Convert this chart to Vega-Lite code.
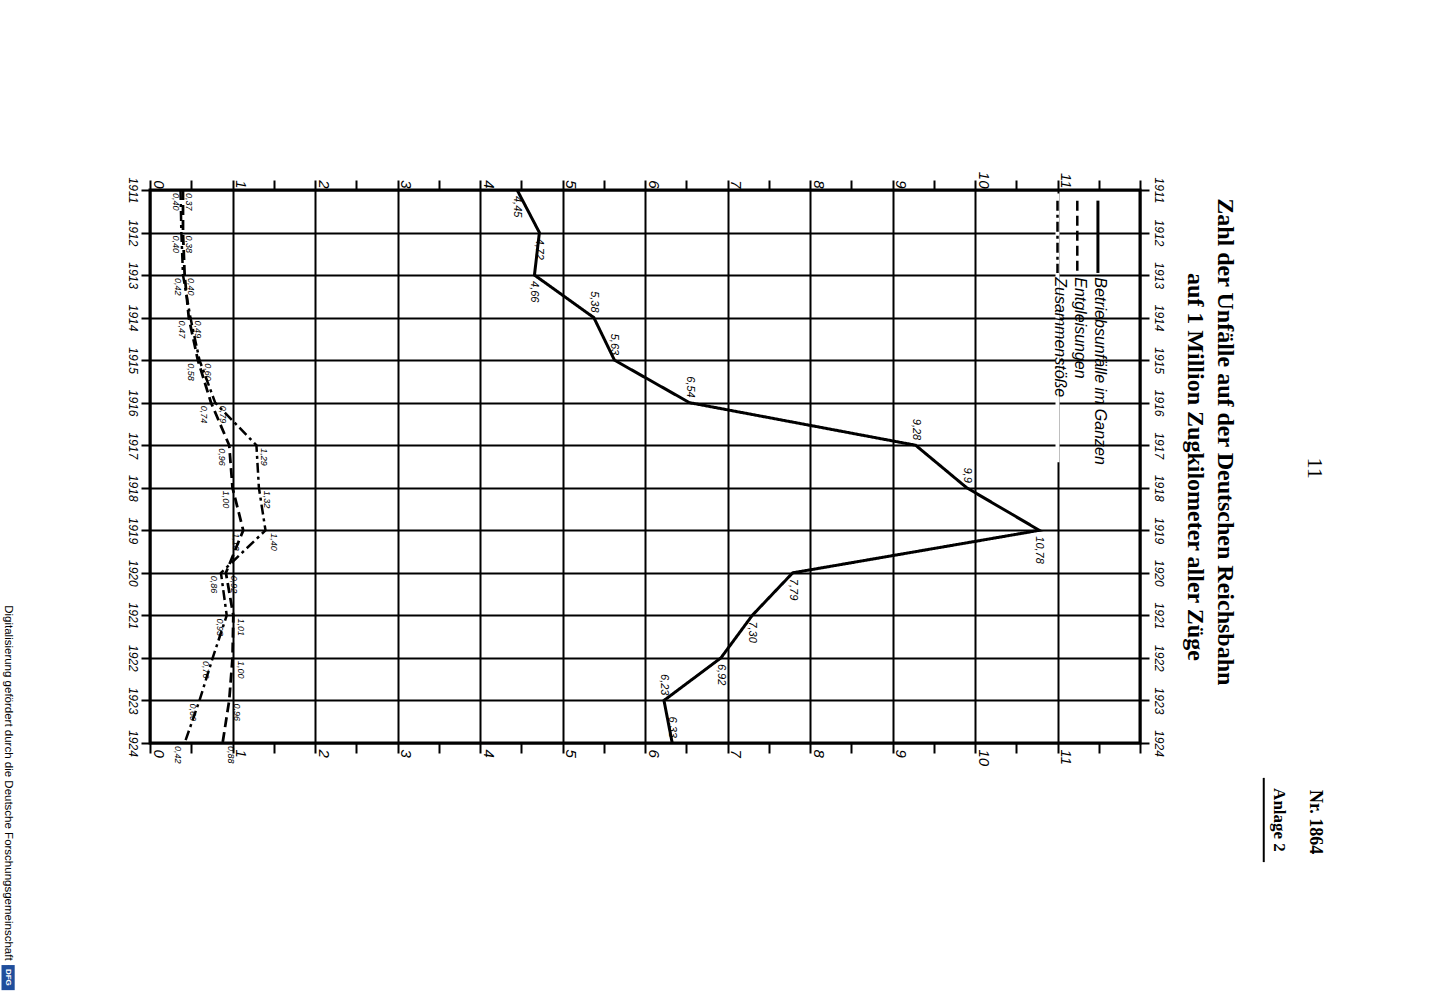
{
  "$schema": "https://vega.github.io/schema/vega-lite/v6.json",
  "width": 990,
  "height": 553,
  "autosize": {"type": "none"},
  "padding": {"left": 150, "top": 190, "right": 294, "bottom": 257},
  "background": "white",
  "config": {
    "view": {"stroke": "black", "strokeWidth": 3},
    "font": "Liberation Sans"
  },
  "data": {"values": [{}]},
  "datasets": {
    "unfaelle": [
      {"year": 1911, "series": "Betriebsunfälle im Ganzen", "value": 4.45, "label": "4,45"},
      {"year": 1912, "series": "Betriebsunfälle im Ganzen", "value": 4.72, "label": "4,72"},
      {"year": 1913, "series": "Betriebsunfälle im Ganzen", "value": 4.66, "label": "4,66"},
      {"year": 1914, "series": "Betriebsunfälle im Ganzen", "value": 5.38, "label": "5,38"},
      {"year": 1915, "series": "Betriebsunfälle im Ganzen", "value": 5.63, "label": "5,63"},
      {"year": 1916, "series": "Betriebsunfälle im Ganzen", "value": 6.54, "label": "6,54"},
      {"year": 1917, "series": "Betriebsunfälle im Ganzen", "value": 9.28, "label": "9,28"},
      {"year": 1918, "series": "Betriebsunfälle im Ganzen", "value": 9.9, "label": "9,9"},
      {"year": 1919, "series": "Betriebsunfälle im Ganzen", "value": 10.78, "label": "10,78"},
      {"year": 1920, "series": "Betriebsunfälle im Ganzen", "value": 7.79, "label": "7,79"},
      {"year": 1921, "series": "Betriebsunfälle im Ganzen", "value": 7.3, "label": "7,30"},
      {"year": 1922, "series": "Betriebsunfälle im Ganzen", "value": 6.92, "label": "6,92"},
      {"year": 1923, "series": "Betriebsunfälle im Ganzen", "value": 6.23, "label": "6,23"},
      {"year": 1924, "series": "Betriebsunfälle im Ganzen", "value": 6.33, "label": "6,33"},
      {"year": 1911, "series": "Entgleisungen", "value": 0.4, "label": "0,40"},
      {"year": 1912, "series": "Entgleisungen", "value": 0.4, "label": "0,40"},
      {"year": 1913, "series": "Entgleisungen", "value": 0.42, "label": "0,42"},
      {"year": 1914, "series": "Entgleisungen", "value": 0.47, "label": "0,47"},
      {"year": 1915, "series": "Entgleisungen", "value": 0.58, "label": "0,58"},
      {"year": 1916, "series": "Entgleisungen", "value": 0.74, "label": "0,74"},
      {"year": 1917, "series": "Entgleisungen", "value": 0.96, "label": "0,96"},
      {"year": 1918, "series": "Entgleisungen", "value": 1.0, "label": "1,00"},
      {"year": 1919, "series": "Entgleisungen", "value": 1.13, "label": "1,13"},
      {"year": 1920, "series": "Entgleisungen", "value": 0.92, "label": "0,92"},
      {"year": 1921, "series": "Entgleisungen", "value": 1.01, "label": "1,01"},
      {"year": 1922, "series": "Entgleisungen", "value": 1.0, "label": "1,00"},
      {"year": 1923, "series": "Entgleisungen", "value": 0.96, "label": "0,96"},
      {"year": 1924, "series": "Entgleisungen", "value": 0.88, "label": "0,88"},
      {"year": 1911, "series": "Zusammenstöße", "value": 0.37, "label": "0,37"},
      {"year": 1912, "series": "Zusammenstöße", "value": 0.38, "label": "0,38"},
      {"year": 1913, "series": "Zusammenstöße", "value": 0.4, "label": "0,40"},
      {"year": 1914, "series": "Zusammenstöße", "value": 0.49, "label": "0,49"},
      {"year": 1915, "series": "Zusammenstöße", "value": 0.6, "label": "0,60"},
      {"year": 1916, "series": "Zusammenstöße", "value": 0.79, "label": "0,79"},
      {"year": 1917, "series": "Zusammenstöße", "value": 1.29, "label": "1,29"},
      {"year": 1918, "series": "Zusammenstöße", "value": 1.32, "label": "1,32"},
      {"year": 1919, "series": "Zusammenstöße", "value": 1.4, "label": "1,40"},
      {"year": 1920, "series": "Zusammenstöße", "value": 0.86, "label": "0,86"},
      {"year": 1921, "series": "Zusammenstöße", "value": 0.93, "label": "0,93"},
      {"year": 1922, "series": "Zusammenstöße", "value": 0.76, "label": "0,76"},
      {"year": 1923, "series": "Zusammenstöße", "value": 0.6, "label": "0,60"},
      {"year": 1924, "series": "Zusammenstöße", "value": 0.42, "label": "0,42"}
    ]
  },
  "layer": [
    {
      "data": {"name": "unfaelle"},
      "mark": {"type": "line", "color": "black"},
      "encoding": {
        "x": {
          "field": "value", "type": "quantitative",
          "scale": {"domain": [0, 12], "nice": false, "zero": true},
          "axis": {
            "orient": "bottom",
            "values": [0, 0.5, 1, 1.5, 2, 2.5, 3, 3.5, 4, 4.5, 5, 5.5, 6, 6.5, 7, 7.5, 8, 8.5, 9, 9.5, 10, 10.5, 11, 11.5, 12],
            "labelExpr": "(datum.value % 1 === 0 && datum.value < 12) ? ('' + datum.value) : ''",
            "grid": true, "gridColor": "black", "gridWidth": 2,
            "gridOpacity": {"condition": {"test": "datum.value % 1 === 0", "value": 1}, "value": 0},
            "tickSize": 10, "tickWidth": 2, "tickColor": "black",
            "domain": false,
            "labelAngle": 90, "labelAlign": "left", "labelBaseline": "bottom", "labelPadding": -4,
            "labelFont": "Liberation Sans", "labelFontStyle": "italic", "labelFontSize": 15, "labelColor": "black",
            "labelFlush": false, "labelOverlap": false,
            "title": null
          }
        },
        "y": {
          "field": "year", "type": "quantitative",
          "scale": {"domain": [1911, 1924], "reverse": true, "nice": false, "zero": false},
          "axis": {
            "orient": "left",
            "values": [1911, 1912, 1913, 1914, 1915, 1916, 1917, 1918, 1919, 1920, 1921, 1922, 1923, 1924],
            "format": "d",
            "grid": true, "gridColor": "black", "gridWidth": 2,
            "tickSize": 9, "tickWidth": 2, "tickColor": "black",
            "domain": false,
            "labelAngle": 90, "labelAlign": "center", "labelBaseline": "top", "labelPadding": 4,
            "labelFont": "Liberation Sans", "labelFontStyle": "italic", "labelFontSize": 12, "labelColor": "black",
            "labelFlush": false, "labelOverlap": false,
            "title": null
          }
        },
        "order": {"field": "year", "type": "quantitative"},
        "strokeDash": {
          "field": "series", "type": "nominal",
          "scale": {"domain": ["Betriebsunfälle im Ganzen", "Entgleisungen", "Zusammenstöße"], "range": [[1, 0], [10, 5], [10, 4, 3, 4]]},
          "legend": null
        },
        "strokeWidth": {
          "field": "series", "type": "nominal",
          "scale": {"domain": ["Betriebsunfälle im Ganzen", "Entgleisungen", "Zusammenstöße"], "range": [3, 2.5, 2.5]},
          "legend": null
        }
      }
    },
    {
      "data": {"name": "unfaelle"},
      "mark": {"type": "point", "opacity": 0},
      "encoding": {
        "x": {
          "field": "value", "type": "quantitative",
          "axis": {
            "orient": "top",
            "values": [0, 0.5, 1, 1.5, 2, 2.5, 3, 3.5, 4, 4.5, 5, 5.5, 6, 6.5, 7, 7.5, 8, 8.5, 9, 9.5, 10, 10.5, 11, 11.5, 12],
            "labelExpr": "(datum.value % 1 === 0 && datum.value < 12) ? ('' + datum.value) : ''",
            "grid": false,
            "tickSize": 10, "tickWidth": 2, "tickColor": "black",
            "domain": false,
            "labelAngle": 90, "labelAlign": "right", "labelBaseline": "bottom", "labelPadding": -8,
            "labelFont": "Liberation Sans", "labelFontStyle": "italic", "labelFontSize": 15, "labelColor": "black",
            "labelFlush": false, "labelOverlap": false,
            "title": null
          }
        },
        "y": {
          "field": "year", "type": "quantitative",
          "axis": {
            "orient": "right",
            "values": [1911, 1912, 1913, 1914, 1915, 1916, 1917, 1918, 1919, 1920, 1921, 1922, 1923, 1924],
            "format": "d",
            "grid": false,
            "tickSize": 9, "tickWidth": 2, "tickColor": "black",
            "domain": false,
            "labelAngle": 90, "labelAlign": "center", "labelBaseline": "bottom", "labelPadding": 2,
            "labelFont": "Liberation Sans", "labelFontStyle": "italic", "labelFontSize": 12, "labelColor": "black",
            "labelFlush": false, "labelOverlap": false,
            "title": null
          }
        }
      }
    },
    {
      "mark": {"type": "rule", "color": "white", "strokeWidth": 4},
      "encoding": {
        "x": {"datum": 11, "type": "quantitative", "axis": null},
        "y": {"datum": 1911.08, "type": "quantitative", "axis": null},
        "y2": {"datum": 1917.4}
      }
    },
    {
      "mark": {"type": "rule", "color": "black", "strokeWidth": 3},
      "encoding": {
        "x": {"datum": 11.49, "type": "quantitative", "axis": null},
        "y": {"datum": 1911.25, "type": "quantitative", "axis": null},
        "y2": {"datum": 1912.95}
      }
    },
    {
      "mark": {"type": "rule", "color": "black", "strokeWidth": 2.5, "strokeDash": [10, 5]},
      "encoding": {
        "x": {"datum": 11.24, "type": "quantitative", "axis": null},
        "y": {"datum": 1911.25, "type": "quantitative", "axis": null},
        "y2": {"datum": 1912.95}
      }
    },
    {
      "mark": {"type": "rule", "color": "black", "strokeWidth": 2.5, "strokeDash": [10, 4, 3, 4]},
      "encoding": {
        "x": {"datum": 11.0, "type": "quantitative", "axis": null},
        "y": {"datum": 1911.25, "type": "quantitative", "axis": null},
        "y2": {"datum": 1912.95}
      }
    },
    {
      "mark": {"type": "text", "text": "Betriebsunfälle im Ganzen", "angle": 90, "align": "left", "baseline": "middle", "font": "Liberation Sans", "fontStyle": "italic", "fontSize": 16, "color": "black"},
      "encoding": {
        "x": {"datum": 11.52, "type": "quantitative", "axis": null},
        "y": {"datum": 1913.05, "type": "quantitative", "axis": null}
      }
    },
    {
      "mark": {"type": "text", "text": "Entgleisungen", "angle": 90, "align": "left", "baseline": "middle", "font": "Liberation Sans", "fontStyle": "italic", "fontSize": 16, "color": "black"},
      "encoding": {
        "x": {"datum": 11.27, "type": "quantitative", "axis": null},
        "y": {"datum": 1913.05, "type": "quantitative", "axis": null}
      }
    },
    {
      "mark": {"type": "text", "text": "Zusammenstöße", "angle": 90, "align": "left", "baseline": "middle", "font": "Liberation Sans", "fontStyle": "italic", "fontSize": 16, "color": "black"},
      "encoding": {
        "x": {"datum": 11.03, "type": "quantitative", "axis": null},
        "y": {"datum": 1913.05, "type": "quantitative", "axis": null}
      }
    },
    {
      "data": {"name": "unfaelle"},
      "transform": [
        {"filter": {"field": "series", "equal": "Betriebsunfälle im Ganzen"}},
        {"filter": {"field": "year", "oneOf": [1911, 1912, 1913, 1919, 1920, 1921, 1922]}}
      ],
      "mark": {"type": "text", "angle": 90, "align": "left", "baseline": "middle", "dx": 6, "font": "Liberation Sans", "fontStyle": "italic", "fontSize": 11, "color": "black"},
      "encoding": {
        "x": {"field": "value", "type": "quantitative", "axis": null},
        "y": {"field": "year", "type": "quantitative", "axis": null},
        "text": {"field": "label"}
      }
    },
    {
      "data": {"name": "unfaelle"},
      "transform": [
        {"filter": {"field": "series", "equal": "Betriebsunfälle im Ganzen"}},
        {"filter": {"field": "year", "oneOf": [1914, 1915, 1916, 1917, 1918, 1923, 1924]}}
      ],
      "mark": {"type": "text", "angle": 90, "align": "right", "baseline": "middle", "dx": -5, "font": "Liberation Sans", "fontStyle": "italic", "fontSize": 11, "color": "black"},
      "encoding": {
        "x": {"field": "value", "type": "quantitative", "axis": null},
        "y": {"field": "year", "type": "quantitative", "axis": null},
        "text": {"field": "label"}
      }
    },
    {
      "data": {"name": "unfaelle"},
      "transform": [
        {"filter": {"field": "series", "equal": "Entgleisungen"}},
        {"filter": {"field": "year", "range": [1911, 1919]}}
      ],
      "mark": {"type": "text", "angle": 90, "align": "left", "baseline": "top", "dx": 3, "dy": 3, "font": "Liberation Sans", "fontStyle": "italic", "fontSize": 9, "color": "black"},
      "encoding": {
        "x": {"field": "value", "type": "quantitative", "axis": null},
        "y": {"field": "year", "type": "quantitative", "axis": null},
        "text": {"field": "label"}
      }
    },
    {
      "data": {"name": "unfaelle"},
      "transform": [
        {"filter": {"field": "series", "equal": "Entgleisungen"}},
        {"filter": {"field": "year", "range": [1920, 1924]}}
      ],
      "mark": {"type": "text", "angle": 90, "align": "left", "baseline": "bottom", "dx": 3, "dy": -3, "font": "Liberation Sans", "fontStyle": "italic", "fontSize": 9, "color": "black"},
      "encoding": {
        "x": {"field": "value", "type": "quantitative", "axis": null},
        "y": {"field": "year", "type": "quantitative", "axis": null},
        "text": {"field": "label"}
      }
    },
    {
      "data": {"name": "unfaelle"},
      "transform": [
        {"filter": {"field": "series", "equal": "Zusammenstöße"}},
        {"filter": {"field": "year", "range": [1911, 1919]}}
      ],
      "mark": {"type": "text", "angle": 90, "align": "left", "baseline": "bottom", "dx": 3, "dy": -3, "font": "Liberation Sans", "fontStyle": "italic", "fontSize": 9, "color": "black"},
      "encoding": {
        "x": {"field": "value", "type": "quantitative", "axis": null},
        "y": {"field": "year", "type": "quantitative", "axis": null},
        "text": {"field": "label"}
      }
    },
    {
      "data": {"name": "unfaelle"},
      "transform": [
        {"filter": {"field": "series", "equal": "Zusammenstöße"}},
        {"filter": {"field": "year", "range": [1920, 1924]}}
      ],
      "mark": {"type": "text", "angle": 90, "align": "left", "baseline": "top", "dx": 3, "dy": 3, "font": "Liberation Sans", "fontStyle": "italic", "fontSize": 9, "color": "black"},
      "encoding": {
        "x": {"field": "value", "type": "quantitative", "axis": null},
        "y": {"field": "year", "type": "quantitative", "axis": null},
        "text": {"field": "label"}
      }
    },
    {
      "mark": {"type": "text", "text": "Zahl der Unfälle auf der Deutschen Reichsbahn", "angle": 90, "align": "center", "baseline": "middle", "font": "Liberation Serif", "fontSize": 24, "fontWeight": "bold", "color": "black"},
      "encoding": {
        "x": {"datum": 13.03, "type": "quantitative", "axis": null},
        "y": {"datum": 1916.92, "type": "quantitative", "axis": null}
      }
    },
    {
      "mark": {"type": "text", "text": "auf 1 Million Zugkilometer aller Züge", "angle": 90, "align": "center", "baseline": "middle", "font": "Liberation Serif", "fontSize": 24, "fontWeight": "bold", "color": "black"},
      "encoding": {
        "x": {"datum": 12.67, "type": "quantitative", "axis": null},
        "y": {"datum": 1917.51, "type": "quantitative", "axis": null}
      }
    },
    {
      "mark": {"type": "text", "text": "11", "angle": 90, "align": "center", "baseline": "middle", "font": "Liberation Serif", "fontSize": 22, "color": "black"},
      "encoding": {
        "x": {"datum": 14.12, "type": "quantitative", "axis": null},
        "y": {"datum": 1917.54, "type": "quantitative", "axis": null}
      }
    },
    {
      "mark": {"type": "text", "text": "Nr. 1864", "angle": 90, "align": "center", "baseline": "middle", "font": "Liberation Serif", "fontSize": 18, "fontWeight": "bold", "color": "black"},
      "encoding": {
        "x": {"datum": 14.12, "type": "quantitative", "axis": null},
        "y": {"datum": 1925.86, "type": "quantitative", "axis": null}
      }
    },
    {
      "mark": {"type": "text", "text": "Anlage 2", "angle": 90, "align": "center", "baseline": "middle", "font": "Liberation Serif", "fontSize": 17, "fontWeight": "bold", "color": "black"},
      "encoding": {
        "x": {"datum": 13.68, "type": "quantitative", "axis": null},
        "y": {"datum": 1925.81, "type": "quantitative", "axis": null}
      }
    },
    {
      "mark": {"type": "rule", "color": "black", "strokeWidth": 2},
      "encoding": {
        "x": {"datum": 13.5, "type": "quantitative", "axis": null},
        "y": {"datum": 1924.82, "type": "quantitative", "axis": null},
        "y2": {"datum": 1926.8}
      }
    },
    {
      "mark": {"type": "text", "text": "Digitalisierung gefördert durch die Deutsche Forschungsgemeinschaft ·", "angle": 90, "align": "left", "baseline": "middle", "font": "Liberation Sans", "fontSize": 11.5, "color": "black"},
      "encoding": {
        "x": {"datum": -1.72, "type": "quantitative", "axis": null},
        "y": {"datum": 1920.76, "type": "quantitative", "axis": null}
      }
    },
    {
      "mark": {"type": "rect", "color": "#1f4e9c"},
      "encoding": {
        "x": {"datum": -1.8, "type": "quantitative", "axis": null},
        "x2": {"datum": -1.64},
        "y": {"datum": 1929.22, "type": "quantitative", "axis": null},
        "y2": {"datum": 1929.81}
      }
    },
    {
      "mark": {"type": "text", "text": "DFG", "angle": 90, "align": "center", "baseline": "middle", "font": "Liberation Sans", "fontSize": 8, "fontWeight": "bold", "color": "white"},
      "encoding": {
        "x": {"datum": -1.72, "type": "quantitative", "axis": null},
        "y": {"datum": 1929.51, "type": "quantitative", "axis": null}
      }
    }
  ],
  "resolve": {"axis": {"x": "independent", "y": "independent"}}
}
